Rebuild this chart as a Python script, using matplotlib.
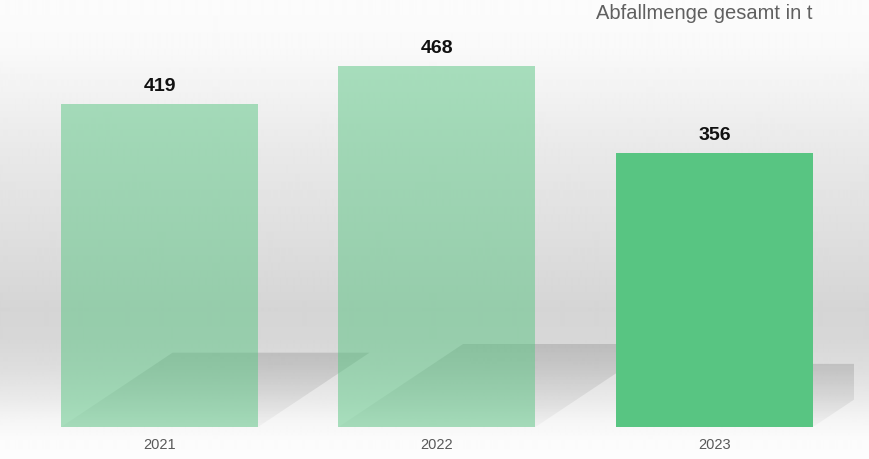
import numpy as np
import matplotlib.pyplot as plt
from matplotlib.patches import Polygon

years = ['2021', '2022', '2023']
amounts = [419, 468, 356]
bar_alpha = [0.5, 0.5, 1.0]

title = 'Abfallmenge gesamt in t'
green = '#58c582'

plt.rcParams['font.family'] = ['Liberation Sans', 'DejaVu Sans']

fig = plt.figure(figsize=(8.69, 4.60), dpi=100)
ax = fig.add_axes([0, 0, 1, 1])
xlo, xhi = -0.575, 2.557
ylo, yhi = -41.5, 555.1
ax.set_xlim(xlo, xhi)
ax.set_ylim(ylo, yhi)
ax.axis('off')

# soft grey backdrop, darkest just above the floor
px = np.arange(460)
stop_px = [0, 50, 100, 150, 200, 250, 310, 340, 370, 400, 420, 440, 460]
stop_gray = [252, 249, 241, 233, 227, 221, 213, 215, 222, 234, 245, 251, 253]
shade = np.interp(px, stop_px, stop_gray) / 255.0
backdrop = np.repeat(shade[:, None], 2, axis=1)
ax.imshow(backdrop, cmap='gray', vmin=0, vmax=1, extent=(xlo, xhi, ylo, yhi),
          origin='upper', aspect='auto', zorder=0, interpolation='bilinear')

xs = np.arange(len(years))
width = 0.71

# floor shadows cast back to the right
for x, v in zip(xs, amounts):
    dy = 0.23 * v
    dx = 0.000959 * v
    x0, x1 = x - width / 2, x + width / 2
    poly = Polygon([(x0, 0), (x1, 0), (x1 + dx, dy), (x0 + dx, dy)], closed=True,
                   facecolor='none', edgecolor='none')
    ax.add_patch(poly)
    img = np.zeros((64, 1, 4))
    img[..., 3] = np.linspace(0.03, 0.13, 64)[:, None]
    im = ax.imshow(img, extent=(x0, min(x1 + dx, 2.5), 0, dy), origin='lower',
                   aspect='auto', zorder=1, interpolation='bilinear')
    im.set_clip_path(poly)

bars = ax.bar(xs, amounts, width=width, color=green, zorder=3)
for b, a in zip(bars, bar_alpha):
    b.set_alpha(a)

for x, v in zip(xs, amounts):
    ax.text(x, v + 24, str(v), ha='center', va='center', fontsize=14,
            fontweight='bold', color='#111111', zorder=4)

for x, y in zip(xs, years):
    ax.text(x, -22, y, ha='center', va='center', fontsize=10.5, color='#595959', zorder=4)

ax.text(xs[-1] + width / 2, 537, title, ha='right', va='center', fontsize=14.5,
        color='#606060', zorder=4)

fig.savefig('out.png', dpi=100)
